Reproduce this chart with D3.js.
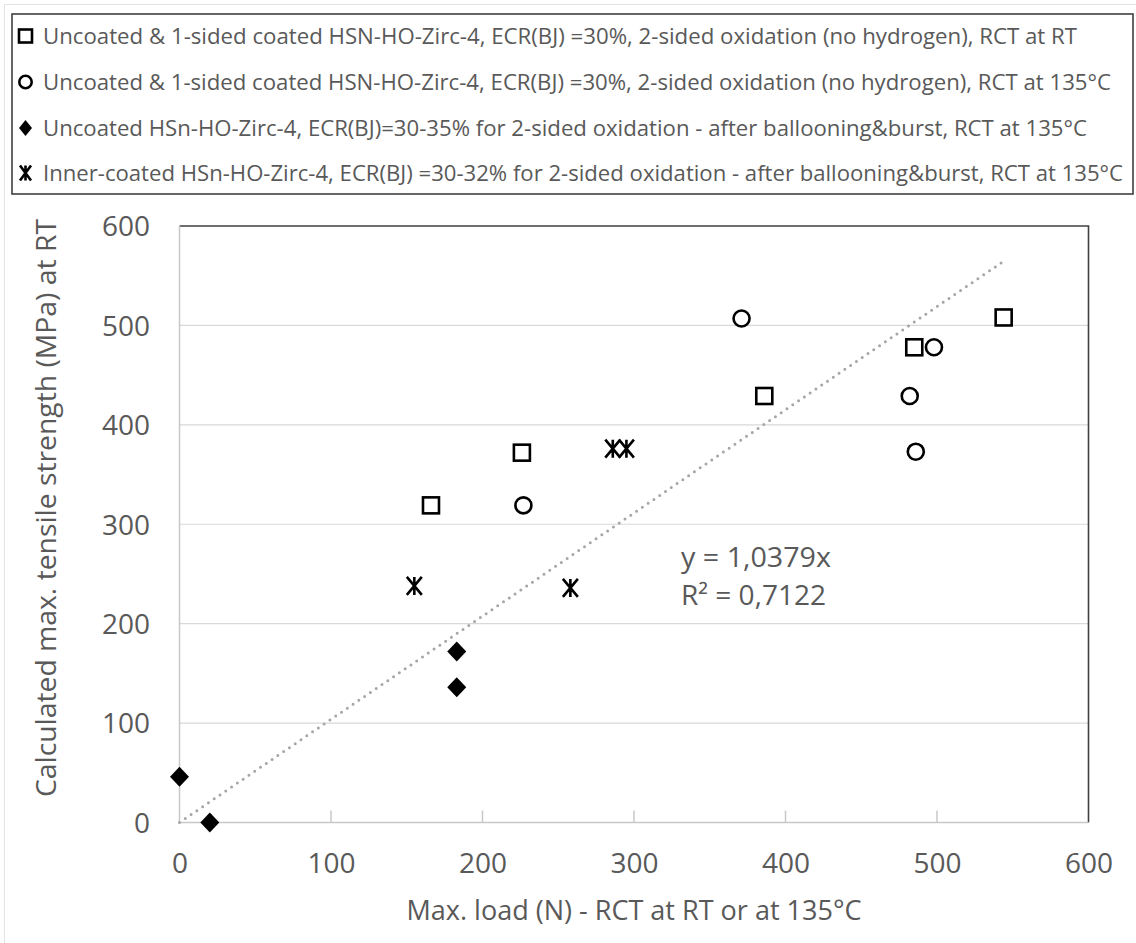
<!DOCTYPE html>
<html><head><meta charset="utf-8">
<script src="https://cdn.jsdelivr.net/npm/d3@7"></script>
<style>body{margin:0;background:#fff} svg{display:block}</style>
</head><body><svg id="c" width="1136" height="943"></svg>
<script>
// ---------- data ----------
const legendLabels = [
  "Uncoated & 1-sided coated HSN-HO-Zirc-4, ECR(BJ) =30%, 2-sided oxidation (no hydrogen), RCT at RT",
  "Uncoated & 1-sided coated HSN-HO-Zirc-4, ECR(BJ) =30%, 2-sided oxidation (no hydrogen), RCT at 135°C",
  "Uncoated HSn-HO-Zirc-4, ECR(BJ)=30-35% for 2-sided oxidation - after ballooning&burst, RCT at 135°C",
  "Inner-coated HSn-HO-Zirc-4, ECR(BJ) =30-32% for 2-sided oxidation - after ballooning&burst, RCT at 135°C"
];
const legendWidths = [1034, 1068, 1044, 1080];
const xTickValues = [0, 100, 200, 300, 400, 500, 600];
const yTickValues = [0, 100, 200, 300, 400, 500, 600];
const rtSquareX = [166, 226, 386, 485, 544];
const rtSquareY = [319, 372, 429, 478, 508];
const hotCircleX = [227, 371, 482, 486, 498];
const hotCircleY = [319, 507, 429, 373, 478];
const uncoatedDiamondX = [0, 20, 183, 183];
const uncoatedDiamondY = [46, 0, 172, 136];
const innerStarX = [155, 258, 286, 295];
const innerStarY = [238, 236, 376, 376];
const trendSlope = 1.0379;
const trendLabels = ["y = 1,0379x", "R² = 0,7122"];
const trendWidths = [150, 145];
const xTitle = "Max. load (N) - RCT at RT or at 135°C";
const yTitle = "Calculated max. tensile strength (MPa) at RT";

// ---------- layout ----------
const svg = d3.select("#c");
const P = {left: 179.5, right: 1088.5, top: 226, bottom: 822.5};
const x = d3.scaleLinear().domain([0, 600]).range([P.left, P.right]);
const y = d3.scaleLinear().domain([0, 600]).range([P.bottom, P.top]);
const FONT = "'Open Sans', 'Noto Sans', sans-serif";
const GREY = "#595959";

// faint outer frame
svg.append("line").attr("x1", 4).attr("x2", 1136).attr("y1", 4.5).attr("y2", 4.5).attr("stroke", "#e3e3e3");
svg.append("line").attr("x1", 4.5).attr("x2", 4.5).attr("y1", 4).attr("y2", 943).attr("stroke", "#e3e3e3");

// gridlines
svg.append("g").selectAll("line").data(yTickValues.filter(v => v > 0 && v < 600)).join("line")
  .attr("x1", P.left).attr("x2", P.right).attr("y1", d => y(d)).attr("y2", d => y(d))
  .attr("stroke", "#d9d9d9").attr("stroke-width", 1.2);

// plot border (top & right dark)
svg.append("path").attr("d", `M${P.left},${P.top}H${P.right}V${P.bottom}`)
  .attr("fill", "none").attr("stroke", "#404040").attr("stroke-width", 1.6);

// axes lines
svg.append("line").attr("x1", P.left).attr("x2", P.left).attr("y1", P.top).attr("y2", P.bottom)
  .attr("stroke", "#c8c8c8").attr("stroke-width", 1.5);
svg.append("line").attr("x1", P.left).attr("x2", P.right).attr("y1", P.bottom).attr("y2", P.bottom)
  .attr("stroke", "#c8c8c8").attr("stroke-width", 1.5);

// x tick marks (inside)
svg.append("g").selectAll("line").data(xTickValues.filter(v => v > 0 && v < 600)).join("line")
  .attr("x1", d => x(d)).attr("x2", d => x(d)).attr("y1", P.bottom).attr("y2", P.bottom - 12)
  .attr("stroke", "#c8c8c8").attr("stroke-width", 1.5);

// axes labels via d3 axes
const yAxis = svg.append("g").attr("transform", `translate(${P.left},0)`)
  .call(d3.axisLeft(y).tickValues(yTickValues).tickSize(0).tickPadding(29.5));
yAxis.select(".domain").remove();
yAxis.selectAll("text").attr("font-family", FONT).attr("font-size", 28).attr("fill", GREY).attr("dy", "0.35em");

const xAxis = svg.append("g").attr("transform", `translate(0,${P.bottom})`)
  .call(d3.axisBottom(x).tickValues(xTickValues).tickSize(0));
xAxis.select(".domain").remove();
xAxis.selectAll("text").attr("font-family", FONT).attr("font-size", 28).attr("fill", GREY)
  .attr("y", 50).attr("dy", 0);

// axis titles
svg.append("text").attr("x", (P.left + P.right) / 2).attr("y", 920).attr("text-anchor", "middle")
  .attr("font-family", FONT).attr("font-size", 27).attr("fill", GREY)
  .attr("textLength", 455).attr("lengthAdjust", "spacingAndGlyphs").text(xTitle);
svg.append("text").attr("transform", `translate(56,508) rotate(-90)`).attr("text-anchor", "middle")
  .attr("font-family", FONT).attr("font-size", 27).attr("fill", GREY)
  .attr("textLength", 578).attr("lengthAdjust", "spacingAndGlyphs").text(yTitle);

// trendline
const trendMax = d3.max([...rtSquareX, ...hotCircleX, ...uncoatedDiamondX, ...innerStarX]);
svg.append("line").attr("x1", x(0)).attr("y1", y(0)).attr("x2", x(trendMax)).attr("y2", y(trendSlope * trendMax))
  .attr("stroke", "#a6a6a6").attr("stroke-width", 3).attr("stroke-linecap", "round")
  .attr("stroke-dasharray", "0 7");

svg.append("g").selectAll("text").data(trendLabels).join("text")
  .attr("x", 681).attr("y", (d, i) => 566.5 + i * 38.5)
  .attr("font-family", FONT).attr("font-size", 27.5).attr("fill", GREY)
  .attr("textLength", (d, i) => trendWidths[i]).attr("lengthAdjust", "spacingAndGlyphs")
  .text(d => d);

// marker symbols
function drawSquare(g, cx, cy, s) {
  g.append("rect").attr("x", cx - s / 2).attr("y", cy - s / 2).attr("width", s).attr("height", s)
    .attr("fill", "#fff").attr("stroke", "#000").attr("stroke-width", 2.6);
}
function drawCircle(g, cx, cy, r) {
  g.append("circle").attr("cx", cx).attr("cy", cy).attr("r", r)
    .attr("fill", "#fff").attr("stroke", "#000").attr("stroke-width", 2.6);
}
function drawDiamond(g, cx, cy, w, h) {
  g.append("path").attr("d", `M${cx},${cy - h}L${cx + w},${cy}L${cx},${cy + h}L${cx - w},${cy}Z`).attr("fill", "#000");
}
function drawStar(g, cx, cy, w, h) {
  g.append("path").attr("d",
    `M${cx - w},${cy - h}L${cx + w},${cy + h}M${cx + w},${cy - h}L${cx - w},${cy + h}M${cx},${cy - h}V${cy + h}`)
    .attr("fill", "none").attr("stroke", "#000").attr("stroke-width", 2.6);
}

const gm = svg.append("g");
rtSquareX.forEach((v, i) => drawSquare(gm, x(v), y(rtSquareY[i]), 16));
hotCircleX.forEach((v, i) => drawCircle(gm, x(v), y(hotCircleY[i]), 8));
uncoatedDiamondX.forEach((v, i) => drawDiamond(gm, x(v), y(uncoatedDiamondY[i]), 9.5, 10));
innerStarX.forEach((v, i) => drawStar(gm, x(v), y(innerStarY[i]), 7.5, 9));

// legend
svg.append("rect").attr("x", 12).attr("y", 14).attr("width", 1121).attr("height", 180)
  .attr("fill", "#fff").attr("stroke", "#404040").attr("stroke-width", 1.6);
const rowY = [36, 82, 128, 173];
const gl = svg.append("g");
drawSquare(gl, 25.5, rowY[0], 13);
drawCircle(gl, 25.5, rowY[1], 6.2);
drawDiamond(gl, 25.5, rowY[2], 6.5, 8);
drawStar(gl, 25.5, rowY[3], 5.5, 7.5);
gl.selectAll("text").data(legendLabels).join("text")
  .attr("x", 43).attr("y", (d, i) => rowY[i] + 8)
  .attr("font-family", FONT).attr("font-size", 21).attr("fill", GREY)
  .attr("textLength", (d, i) => legendWidths[i]).attr("lengthAdjust", "spacingAndGlyphs")
  .text(d => d);
</script></body></html>
